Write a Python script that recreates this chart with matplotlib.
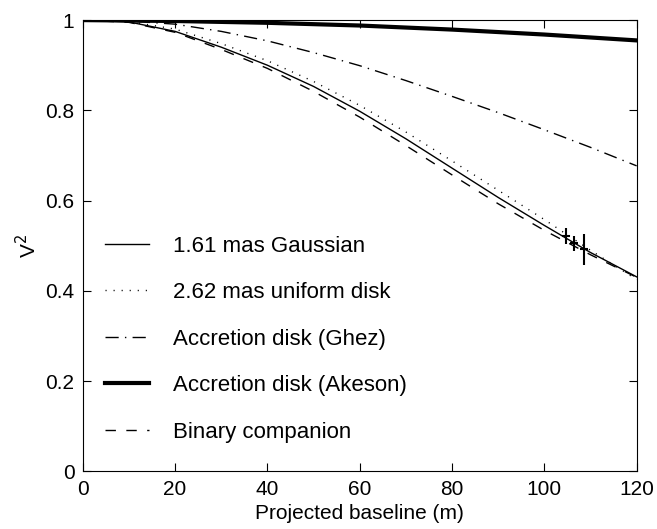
import matplotlib
matplotlib.use("Agg")
import matplotlib.pyplot as plt

plt.rcParams["font.family"] = ["Liberation Sans", "DejaVu Sans"]

# model curves
baseline = [0, 10, 20, 30, 40, 50, 60, 70, 80, 90, 100, 110, 120]
gaussian = [1.0, 0.996, 0.975, 0.94, 0.90, 0.853, 0.798, 0.737, 0.672, 0.607, 0.545, 0.485, 0.431]
uniform_disk = [1.0, 0.997, 0.98, 0.948, 0.91, 0.864, 0.811, 0.752, 0.688, 0.623, 0.558, 0.49, 0.425]
ghez = [1.0, 0.998, 0.991, 0.975, 0.954, 0.928, 0.899, 0.866, 0.831, 0.795, 0.757, 0.718, 0.677]
binary = [1.0, 0.995, 0.973, 0.935, 0.893, 0.842, 0.785, 0.722, 0.657, 0.593, 0.534, 0.48, 0.43]

akeson_x = [0, 20, 40, 60, 80, 100, 120]
akeson = [1.0, 0.998, 0.994, 0.988, 0.979, 0.968, 0.955]

# measurements
obs_x = [104.7, 106.5, 108.5]
obs_v2 = [0.522, 0.505, 0.492]
obs_err = [0.018, 0.017, 0.034]

fig = plt.figure(figsize=(6.57, 5.29), dpi=100)
ax = fig.add_axes([0.126, 0.109, 0.843, 0.853])

ax.plot(baseline, gaussian, "k-", lw=1.0, label="1.61 mas Gaussian")
ax.plot(baseline, uniform_disk, "k", lw=1.0, dashes=(0.8, 5), label="2.62 mas uniform disk")
ax.plot(baseline, ghez, "k", lw=1.0, dashes=(9.5, 4.5, 1, 4.5), label="Accretion disk (Ghez)")
ax.plot(akeson_x, akeson, "k-", lw=3.0, label="Accretion disk (Akeson)")
ax.plot(baseline, binary, "k", lw=1.0, dashes=(7.5, 7.5), label="Binary companion")

ax.errorbar(obs_x, obs_v2, yerr=obs_err, fmt="none", ecolor="k", elinewidth=1.5, capsize=0)
ax.plot(obs_x, obs_v2, "k_", ms=6, mew=1.5)

ax.set_xlim(0, 120)
ax.set_ylim(0, 1)
ax.set_xticks([0, 20, 40, 60, 80, 100, 120])
ax.set_yticks([0, 0.2, 0.4, 0.6, 0.8, 1])
ax.set_yticklabels(["0", "0.2", "0.4", "0.6", "0.8", "1"])
ax.tick_params(direction="in", top=True, right=True, length=6, labelsize=15, pad=6)
ax.set_xlabel("Projected baseline (m)", fontsize=15, labelpad=4)
ax.set_ylabel("V$^2$", fontsize=15, labelpad=4)

ax.legend(loc="center left", bbox_to_anchor=(0.04, 0.293), frameon=False,
          fontsize=16, handlelength=2.0, handletextpad=1.05, labelspacing=1.15,
          borderpad=0, borderaxespad=0)

plt.savefig("out.png", dpi=100)
